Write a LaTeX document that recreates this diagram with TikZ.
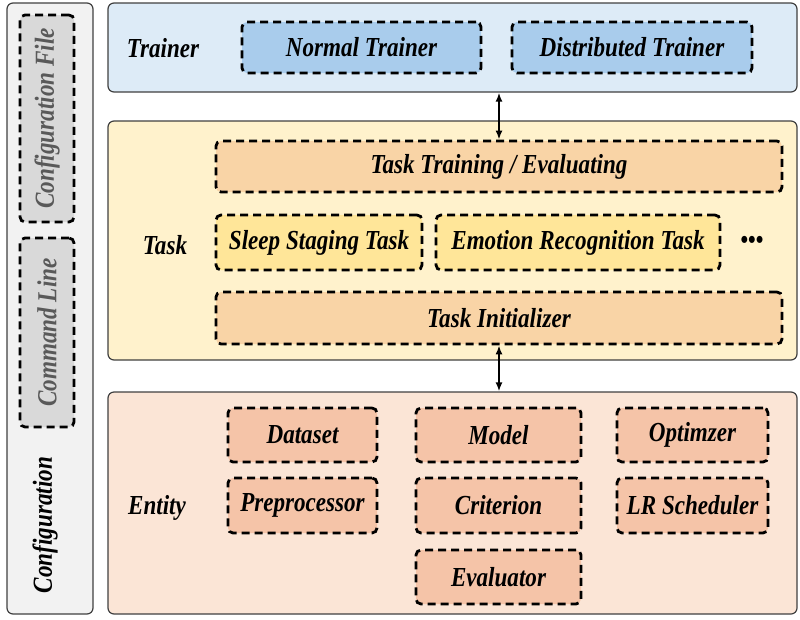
\documentclass[tikz,border=0pt]{standalone}
\usepackage{fontspec}
\setmainfont{Liberation Serif}[FakeStretch=0.84]
\usepackage{tikz}
\usetikzlibrary{positioning,arrows.meta,calc}
\definecolor{cfgPanel}{HTML}{F2F2F2}
\definecolor{cfgItem}{HTML}{D9D9D9}
\definecolor{cfgText}{HTML}{595959}
\definecolor{trBack}{HTML}{DDEBF7}
\definecolor{trItem}{HTML}{A9CCEC}
\definecolor{tkBack}{HTML}{FFF2CC}
\definecolor{tkStep}{HTML}{F9D4A6}
\definecolor{tkItem}{HTML}{FFE699}
\definecolor{enBack}{HTML}{FBE5D6}
\definecolor{enItem}{HTML}{F5C4A8}
\definecolor{edge}{HTML}{404040}
\tikzset{
    base/.style={font=\fontsize{27.5}{29}\selectfont\bfseries\itshape, align=center, inner sep=0pt},
    layer/.style={rectangle, rounded corners=6pt, draw=edge, line width=1.2pt},
    item/.style={base, rectangle, rounded corners=5pt, draw=black, line width=2.8pt,
                 dash pattern=on 8pt off 5pt},
    title/.style={base},
    link/.style={{Latex[length=9pt,width=7pt]}-{Latex[length=9pt,width=7pt]}, line width=2.2pt}
}

\begin{document}
\begin{tikzpicture}[x=1pt, y=-1pt]
  \useasboundingbox (0,0) rectangle (800,619);

  % Configuration panel
  \node[layer, fill=cfgPanel, minimum width=86pt, minimum height=611pt] (config) at (50,308.5) {};
  \node[item, fill=cfgItem, text=cfgText, minimum width=54pt, minimum height=207pt] (cfgfile) at (47,118.5) {};
  \node[title, text=cfgText, rotate=90] at (cfgfile.center) {Configuration File};
  \node[item, fill=cfgItem, text=cfgText, minimum width=54pt, minimum height=189pt] (cmdline) at (47,332.5) {};
  \node[title, text=cfgText, rotate=90] at (cmdline.center) {Command Line};
  \node[title, rotate=90] (configlabel) at (45,525) {Configuration};

  % Trainer layer
  \node[layer, fill=trBack, minimum width=689pt, minimum height=89pt] (trainer) at (452.5,47.5) {};
  \node[title] (trainerlabel) at (163,48) {Trainer};
  \node[item, fill=trItem, minimum width=239pt, minimum height=51pt] (normal) at (361.5,47.5) {Normal Trainer};
  \node[item, fill=trItem, minimum width=240pt, minimum height=51pt] (distributed) at (632,47.5) {Distributed Trainer};

  % Task layer
  \node[layer, fill=tkBack, minimum width=689pt, minimum height=239pt] (task) at (452.5,240.5) {};
  \node[title] (tasklabel) at (165,245) {Task};
  \node[item, fill=tkStep, minimum width=566pt, minimum height=51pt] (tasktrain) at (499,166.5) {Task Training / Evaluating};
  \node[item, fill=tkItem, minimum width=206pt, minimum height=55pt] (sleep) at (319,242.5) {Sleep Staging Task};
  \node[item, fill=tkItem, minimum width=284pt, minimum height=55pt] (emotion) at (578,242.5) {Emotion Recognition Task};
  \node[base, font=\fontsize{26}{26}\selectfont\bfseries] (more) at (752,242) {•••};
  \node[item, fill=tkStep, minimum width=566pt, minimum height=52pt] (taskinit) at (499,318) {Task Initializer};

  % Entity layer
  \node[layer, fill=enBack, minimum width=689pt, minimum height=222pt] (entity) at (452.5,503) {};
  \node[title] (entitylabel) at (157,508) {Entity};
  \node[item, fill=enItem, minimum width=149pt, minimum height=54pt] (dataset) at (302.5,435) {Dataset};
  \node[item, fill=enItem, minimum width=165pt, minimum height=54pt] (model) at (498.5,435) {Model};
  \node[item, fill=enItem, minimum width=151pt, minimum height=54pt] (optim) at (692.5,435) {Optimzer};
  \node[item, fill=enItem, minimum width=149pt, minimum height=55pt] (preproc) at (302.5,505.5) {Preprocessor};
  \node[item, fill=enItem, minimum width=165pt, minimum height=55pt] (criterion) at (498.5,505.5) {Criterion};
  \node[item, fill=enItem, minimum width=151pt, minimum height=55pt] (sched) at (692.5,505.5) {LR Scheduler};
  \node[item, fill=enItem, minimum width=165pt, minimum height=54pt] (evaluator) at (498.5,577) {Evaluator};

  % Links between layers
  \draw[link] (tasktrain.north |- trainer.south) -- (tasktrain.north);
  \draw[link] (taskinit.south) -- (taskinit.south |- entity.north);
\end{tikzpicture}
\end{document}
